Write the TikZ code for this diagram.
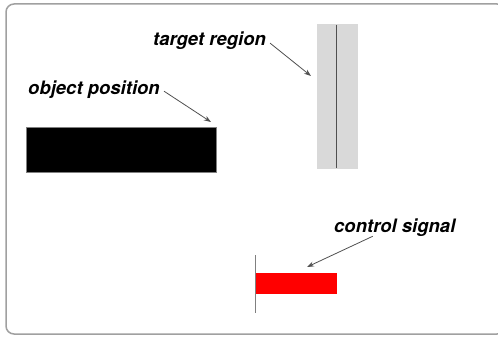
\documentclass[tikz,border=0pt]{standalone}
\usepackage{fontspec}
\setmainfont{TeX Gyre Heros}
\usetikzlibrary{arrows.meta}
\definecolor{framegray}{HTML}{A0A0A0}
\definecolor{regiongray}{HTML}{D9D9D9}
\definecolor{arrowgray}{HTML}{505050}
\tikzset{
  lbl/.style={font=\fontsize{18.5}{20}\selectfont\bfseries\itshape, inner sep=1pt, anchor=base west},
  pointer/.style={draw=arrowgray, line width=0.8pt, -{Stealth[length=7pt,width=5pt]}},
}
\begin{document}
\begin{tikzpicture}[x=1pt,y=-1pt]
\useasboundingbox (0,0) rectangle (498,337);
\fill[white] (0,0) rectangle (498,337);
\draw[framegray, line width=1.5pt, rounded corners=8pt] (6,4) rectangle (505,334);
% object
\node[draw=gray, fill=black, line width=0.6pt, minimum width=190pt, minimum height=45pt, inner sep=0pt, anchor=north west] (obj) at (26,127) {};
% target region
\node[fill=regiongray, minimum width=41pt, minimum height=145pt, inner sep=0pt, anchor=north west] (target) at (317,24) {};
\draw[arrowgray, line width=0.8pt] (target.north) ++(-1.5,1) coordinate (tl1) -- ([xshift=-1.5pt,yshift=1pt]target.south) coordinate (tl2);
% control signal
\node[fill=red, minimum width=82pt, minimum height=21pt, inner sep=0pt, anchor=north west] (ctrl) at (255,273) {};
\coordinate (ct) at (255,255);
\coordinate (cb) at (255,313);
\draw[gray, line width=1pt] (ct) -- (cb);
% labels
\node[lbl] (tlabel) at (152,46) {target region};
\node[lbl] (olabel) at (27,94) {object position};
\node[lbl] (clabel) at (333,232) {control signal};
% arrows
\coordinate (ttip) at (311,76);
\coordinate (otip) at (211,122);
\coordinate (ctip) at (307,267);
\draw[pointer] ([xshift=3pt,yshift=-2pt]tlabel.east) -- (ttip);
\draw[pointer] ([xshift=3pt,yshift=-2pt]olabel.east) -- (otip);
\draw[pointer] ([xshift=-22pt,yshift=1pt]clabel.south) -- (ctip);
\end{tikzpicture}
\end{document}
